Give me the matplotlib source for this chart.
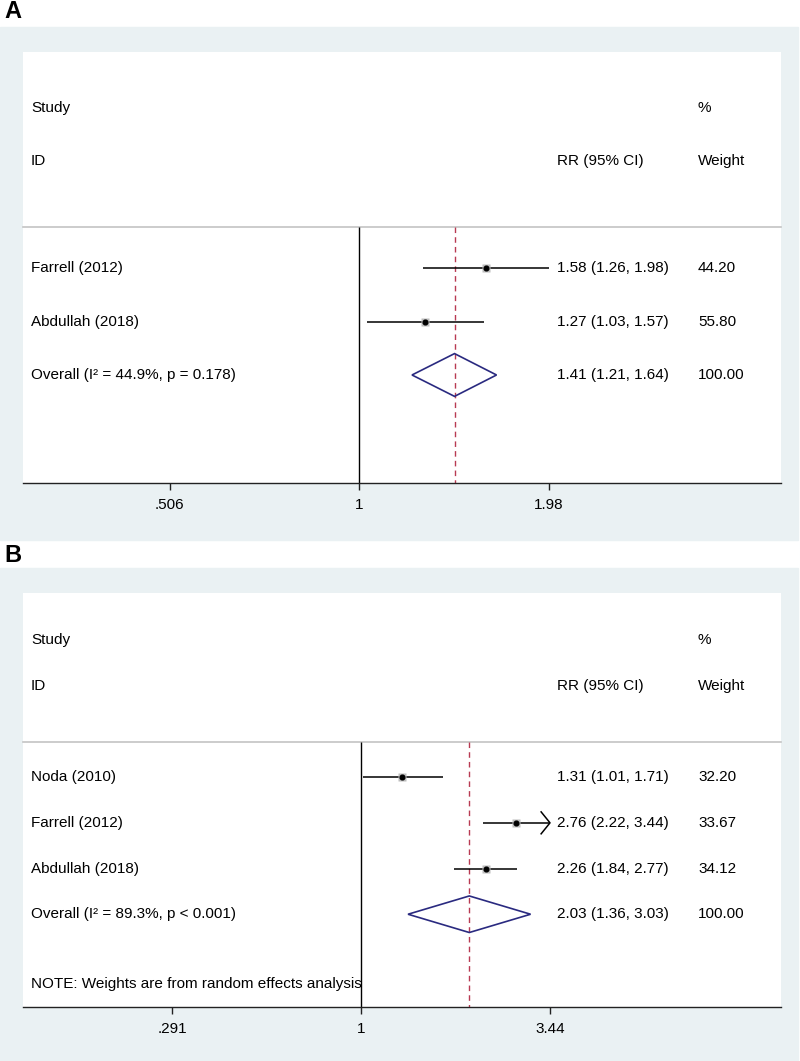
import numpy as np
import matplotlib.pyplot as plt
from matplotlib.patches import Rectangle, Polygon
import matplotlib.transforms as mtransforms

plt.rcParams['font.family'] = ['Liberation Sans', 'DejaVu Sans']
plt.rcParams['font.size'] = 11

# panel A data
a_studies = ["Farrell (2012)", "Abdullah (2018)"]
a_rr = [1.58, 1.27]
a_lo = [1.26, 1.03]
a_hi = [1.98, 1.57]
a_weight = ["44.20", "55.80"]
a_overall = [1.41, 1.21, 1.64]
a_overall_label = "Overall (I² = 44.9%, p = 0.178)"
a_ticks = [0.506, 1, 1.98]
a_ticklabels = [".506", "1", "1.98"]

# panel B data
b_studies = ["Noda (2010)", "Farrell (2012)", "Abdullah (2018)"]
b_rr = [1.31, 2.76, 2.26]
b_lo = [1.01, 2.22, 1.84]
b_hi = [1.71, 3.44, 2.77]
b_weight = ["32.20", "33.67", "34.12"]
b_overall = [2.03, 1.36, 3.03]
b_overall_label = "Overall (I² = 89.3%, p < 0.001)"
b_ticks = [0.291, 1, 3.44]
b_ticklabels = [".291", "1", "3.44"]

W, H = 800, 1061
fig = plt.figure(figsize=(W / 100, H / 100), dpi=100)
bg = "#eaf1f3"
navy = "#2a2a80"
red = "#b83a52"


def px_axes(x0, y0, x1, y1):
    return fig.add_axes([x0 / W, 1 - y1 / H, (x1 - x0) / W, (y1 - y0) / H], zorder=2)


def forest(ax, studies, rr, lo, hi, weight, overall, overall_label,
           ticks, ticklabels, xlim, ylim, note=None, arrow_max=None):
    ax.set_xscale("log")
    ax.set_xlim(*xlim)
    ax.set_ylim(*ylim)
    for s in ["top", "right", "left"]:
        ax.spines[s].set_visible(False)
    ax.spines["bottom"].set_linewidth(1.0)
    ax.spines["bottom"].set_color("#222222")
    ax.set_yticks([])
    ax.xaxis.set_minor_locator(plt.NullLocator())
    ax.set_xticks(ticks)
    ax.set_xticklabels(ticklabels)
    ax.tick_params(axis="x", length=5, width=1, pad=6, labelsize=11, colors="#222222")
    ax.tick_params(axis="x", labelcolor="black")

    tr = mtransforms.blended_transform_factory(ax.transAxes, ax.transData)
    sep = -0.77
    ax.plot([0, 1], [sep, sep], transform=tr, color="#c4c4c4", lw=1.2, clip_on=False)
    ax.vlines(1, sep, ylim[0], color="black", lw=1.0)
    ax.vlines(overall[0], sep, ylim[0], color=red, lw=1.0, linestyles=(0, (4, 3)))

    xl, xr, xw = 0.0106, 0.7045, 0.8905
    ax.text(xl, -3, "Study", transform=tr, va="center")
    ax.text(xl, -2, "ID", transform=tr, va="center")
    ax.text(xr, -2, "RR (95% CI)", transform=tr, va="center")
    ax.text(xw, -3, "%", transform=tr, va="center")
    ax.text(xw, -2, "Weight", transform=tr, va="center")

    for i, name in enumerate(studies):
        ax.text(xl, i, name, transform=tr, va="center")
        ax.text(xr, i, f"{rr[i]:.2f} ({lo[i]:.2f}, {hi[i]:.2f})", transform=tr, va="center")
        ax.text(xw, i, weight[i], transform=tr, va="center")
        ax.plot([lo[i], hi[i]], [i, i], color="black", lw=1.1, solid_capstyle="butt")
        ax.plot(rr[i], i, marker="s", ms=5.5, color="#bdbdbd", mec="none", zorder=3)
        ax.plot(rr[i], i, marker="o", ms=3.4, color="black", zorder=4)
        if arrow_max is not None and hi[i] >= arrow_max:
            back = hi[i] * np.exp(-0.058)
            ax.plot([back, hi[i], back], [i - 0.24, i, i + 0.24], color="black", lw=1.1)

    k = len(studies)
    ax.text(xl, k, overall_label, transform=tr, va="center")
    ax.text(xr, k, f"{overall[0]:.2f} ({overall[1]:.2f}, {overall[2]:.2f})", transform=tr, va="center")
    ax.text(xw, k, "100.00", transform=tr, va="center")
    dia = Polygon([[overall[1], k], [overall[0], k - 0.4], [overall[2], k], [overall[0], k + 0.4]],
                  closed=True, fill=False, edgecolor=navy, lw=1.2, zorder=5)
    ax.add_patch(dia)
    if note:
        ax.text(xl, k + 1.53, note, transform=tr, va="center")


# background boxes
fig.patches.append(Rectangle((0, 1 - 540 / H), 798 / W, (540 - 27) / H,
                             transform=fig.transFigure, color=bg, zorder=-1))
fig.patches.append(Rectangle((0, 1 - 1061 / H), 798 / W, (1061 - 568) / H,
                             transform=fig.transFigure, color=bg, zorder=-1))

fig.text(4 / W, 1 - 11 / H, "A", fontsize=17, fontweight="bold", va="center", ha="left",
         family=["Liberation Sans"])
fig.text(4 / W, 1 - 556 / H, "B", fontsize=17, fontweight="bold", va="center", ha="left",
         family=["Liberation Sans"])

axA = px_axes(23, 52, 781, 483)
forest(axA, a_studies, a_rr, a_lo, a_hi, a_weight, a_overall, a_overall_label,
       a_ticks, a_ticklabels, xlim=(0.2986, 4.563), ylim=(4.02, -4.04))

axB = px_axes(23, 593, 781, 1007)
forest(axB, b_studies, b_rr, b_lo, b_hi, b_weight, b_overall, b_overall_label,
       b_ticks, b_ticklabels, xlim=(0.1098, 15.57), ylim=(5.03, -4.03),
       note="NOTE: Weights are from random effects analysis", arrow_max=b_ticks[-1])

fig.savefig("out.png", dpi=100)
